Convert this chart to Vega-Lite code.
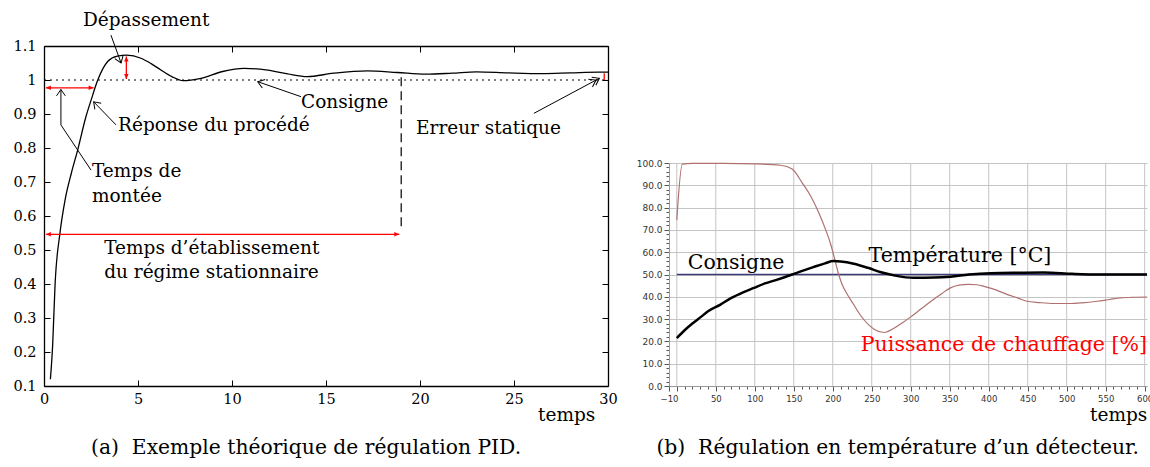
{
  "$schema": "https://vega.github.io/schema/vega-lite/v6.json",
  "padding": {"left": 12, "top": 11, "right": 0, "bottom": 0},
  "background": "white",
  "config": {"view": {"stroke": null}},
  "bounds": "flush",
  "spacing": 61,
  "datasets": {
    "respA": [
      {"t":0.34,"v":0.12},{"t":0.46,"v":0.22},{"t":0.59,"v":0.40},{"t":0.85,"v":0.55},{"t":1.12,"v":0.647},
      {"t":1.45,"v":0.725},{"t":1.79,"v":0.794},{"t":2.23,"v":0.892},{"t":2.5,"v":0.94},{"t":2.86,"v":1.0},
      {"t":3.4,"v":1.055},{"t":3.9,"v":1.07},{"t":4.4,"v":1.073},{"t":5.16,"v":1.064},{"t":5.7,"v":1.048},
      {"t":6.2,"v":1.03},{"t":6.8,"v":1.01},{"t":7.4,"v":0.998},{"t":8.35,"v":1.005},{"t":9.5,"v":1.025},
      {"t":10.65,"v":1.034},{"t":11.8,"v":1.03},{"t":12.96,"v":1.018},{"t":14.0,"v":1.01},{"t":15.4,"v":1.02},
      {"t":17.2,"v":1.027},{"t":18.8,"v":1.022},{"t":20.3,"v":1.017},{"t":21.7,"v":1.02},{"t":23.0,"v":1.024},
      {"t":24.7,"v":1.021},{"t":26.5,"v":1.019},{"t":28.0,"v":1.021},{"t":29.5,"v":1.023},{"t":30,"v":1.023}
    ],
    "consA": [{"t":0,"v":1},{"t":30,"v":1}],
    "statA": [{"t":19,"v":0.57,"v2":1.012}],
    "redA": [
      {"name":"montee","t":0.1,"v":0.977,"t2":2.64,"v2":0.977},
      {"name":"etab","t":0.1,"v":0.546,"t2":18.9,"v2":0.546},
      {"name":"depass","t":4.38,"v":1.003,"t2":4.38,"v2":1.069},
      {"name":"erreur","t":29.8,"v":1.0,"t2":29.8,"v2":1.02}
    ],
    "blkA": [
      {"name":"depass","t":3.56,"v":1.132,"t2":4.10,"v2":1.05},
      {"name":"montee1","t":2.5,"v":0.735,"t2":0.9,"v2":0.868},
      {"name":"montee2","t":0.9,"v":0.868,"t2":0.9,"v2":0.972},
      {"name":"reponse","t":3.83,"v":0.868,"t2":2.64,"v2":0.936},
      {"name":"consigne","t":13.67,"v":0.951,"t2":11.37,"v2":0.995},
      {"name":"erreur","t":26.06,"v":0.902,"t2":29.54,"v2":1.005}
    ],
    "txtA": [
      {"label":"Dépassement","t":2.07,"v":1.176},
      {"label":"Réponse du procédé","t":3.94,"v":0.868},
      {"label":"Temps de","t":2.55,"v":0.732},
      {"label":"montée","t":2.55,"v":0.659},
      {"label":"Consigne","t":13.67,"v":0.935},
      {"label":"Erreur statique","t":19.79,"v":0.859},
      {"label":"Temps d’établissement","t":3.2,"v":0.506},
      {"label":"du régime stationnaire","t":3.2,"v":0.435},
      {"label":"temps","t":26.28,"v":0.015}
    ],
    "capA": [{"label":"(a)\u00a0 Exemple théorique de régulation PID.","t":13.94,"v":-0.082}],
    "gridB": [{"t":0},{"t":50},{"t":100},{"t":150},{"t":200},{"t":250},{"t":300},{"t":350},{"t":400},{"t":450},{"t":500},{"t":550},{"t":600}],
    "consB": [{"t":0,"v":50},{"t":603,"v":50}],
    "puisB": [
      {"t":0,"v":74.5},{"t":7,"v":99.5},{"t":20,"v":99.8},{"t":60,"v":99.8},{"t":100,"v":99.6},{"t":133,"v":99},
      {"t":148,"v":97.3},{"t":161,"v":91},{"t":172,"v":85},{"t":182.5,"v":77.4},{"t":191,"v":70},{"t":197,"v":64},
      {"t":201.7,"v":58},{"t":206.8,"v":51},{"t":212,"v":45.5},{"t":218,"v":41.5},{"t":226,"v":37},{"t":236,"v":31.5},{"t":253,"v":25.5},
      {"t":266,"v":24},{"t":279,"v":26},{"t":290,"v":28.5},{"t":300,"v":31},{"t":313,"v":34.5},{"t":326,"v":38},
      {"t":340,"v":41.5},{"t":351,"v":44},{"t":362,"v":45.2},{"t":374,"v":45.6},{"t":385,"v":45.4},{"t":394,"v":44.7},
      {"t":410,"v":43},{"t":424,"v":41},{"t":437,"v":39.5},{"t":449,"v":38},{"t":465,"v":37.4},{"t":483,"v":37},
      {"t":505,"v":37},{"t":520,"v":37.3},{"t":539,"v":38},{"t":555,"v":38.8},{"t":569,"v":39.5},{"t":585,"v":39.8},
      {"t":603,"v":39.9}
    ],
    "tempB": [
      {"t":0,"v":21.5},{"t":10,"v":25},{"t":20,"v":28},{"t":31,"v":31},{"t":40,"v":33.5},{"t":56,"v":36.5},
      {"t":70,"v":39.5},{"t":85,"v":42},{"t":99,"v":44},{"t":113,"v":46},{"t":127,"v":47.5},{"t":140,"v":49},
      {"t":148,"v":50},{"t":160,"v":51.5},{"t":175,"v":53.3},{"t":190,"v":55},{"t":201,"v":56},{"t":210,"v":55.8},
      {"t":227,"v":54.8},{"t":245,"v":53},{"t":262,"v":51},{"t":280,"v":49.5},{"t":304,"v":48.5},{"t":330,"v":48.6},
      {"t":351,"v":49},{"t":375,"v":50},{"t":403,"v":50.6},{"t":440,"v":50.8},{"t":471,"v":50.9},{"t":507,"v":50.3},
      {"t":540,"v":50},{"t":603,"v":50}
    ],
    "txtB": [
      {"label":"Consigne","t":14,"v":55.2},
      {"label":"Température [°C]","t":246,"v":58.3}
    ],
    "tempsB": [{"label":"temps","t":530,"v":-13}],
    "txtRedB": [{"label":"Puissance de chauffage [%]","t":236,"v":18.4}],
    "capB": [{"label":"(b)\u00a0 Régulation en température d’un détecteur.","t":283.3,"v":-27.8}]
  },
  "hconcat": [
    {
      "width": 564,
      "height": 340,
      "resolve": {"axis": {"x": "independent", "y": "independent"}},
      "layer": [
        {
          "layer": [
            {
              "data": {"name": "respA"},
              "mark": {"type": "line", "color": "black", "strokeWidth": 1.3, "interpolate": "monotone"},
              "encoding": {
                "x": {"field": "t", "type": "quantitative", "scale": {"domain": [0, 30], "nice": false, "zero": false},
                  "axis": {"orient": "bottom", "values": [0,5,10,15,20,25,30], "tickCount": 100, "format": "d", "title": null, "grid": false,
                    "tickSize": -6, "labelPadding": 12, "labelFont": "DejaVu Serif", "labelFontSize": 14.5, "labelColor": "black",
                    "domainColor": "black", "domainWidth": 1.3, "tickColor": "black", "labelFlush": false, "labelOverlap": false}},
                "y": {"field": "v", "type": "quantitative", "scale": {"domain": [0.1, 1.1], "nice": false, "zero": false},
                  "axis": {"orient": "left", "values": [0.1,0.2,0.3,0.4,0.5,0.6,0.7,0.8,0.9,1,1.1], "tickCount": 100, "format": "~g", "title": null, "grid": false,
                    "tickSize": -6, "labelPadding": 14, "labelFont": "DejaVu Serif", "labelFontSize": 14.5, "labelColor": "black",
                    "domainColor": "black", "domainWidth": 1.3, "tickColor": "black", "labelFlush": false, "labelOverlap": false}}
              }
            },
            {
              "data": {"name": "statA"},
              "mark": {"type": "rule", "color": "black", "strokeDash": [9, 5], "strokeWidth": 1.2},
              "encoding": {"x": {"field": "t", "type": "quantitative"}, "y": {"field": "v", "type": "quantitative"}, "y2": {"field": "v2"}}
            },
            {
              "data": {"name": "redA"},
              "mark": {"type": "rule", "color": "#ff0000", "strokeWidth": 1.3},
              "encoding": {"x": {"field": "t", "type": "quantitative"}, "y": {"field": "v", "type": "quantitative"}, "x2": {"field": "t2"}, "y2": {"field": "v2"}}
            },
            {
              "data": {"name": "redA"},
              "transform": [{"filter": "datum.v == datum.v2"}],
              "mark": {"type": "point", "shape": "M0,0L-1,-0.45L-1,0.45Z", "filled": true, "color": "#ff0000", "opacity": 1, "size": 100, "angle": 180},
              "encoding": {"x": {"field": "t", "type": "quantitative"}, "y": {"field": "v", "type": "quantitative"}}
            },
            {
              "data": {"name": "redA"},
              "transform": [{"filter": "datum.v == datum.v2"}],
              "mark": {"type": "point", "shape": "M0,0L-1,-0.45L-1,0.45Z", "filled": true, "color": "#ff0000", "opacity": 1, "size": 100, "angle": 0},
              "encoding": {"x": {"field": "t2", "type": "quantitative"}, "y": {"field": "v2", "type": "quantitative"}}
            },
            {
              "data": {"name": "redA"},
              "transform": [{"filter": "datum.name == 'depass'"}],
              "mark": {"type": "point", "shape": "M0,0L-1,-0.45L-1,0.45Z", "filled": true, "color": "#ff0000", "opacity": 1, "size": 100, "angle": 90},
              "encoding": {"x": {"field": "t", "type": "quantitative"}, "y": {"field": "v", "type": "quantitative"}}
            },
            {
              "data": {"name": "redA"},
              "transform": [{"filter": "datum.name == 'depass'"}],
              "mark": {"type": "point", "shape": "M0,0L-1,-0.45L-1,0.45Z", "filled": true, "color": "#ff0000", "opacity": 1, "size": 100, "angle": 270},
              "encoding": {"x": {"field": "t2", "type": "quantitative"}, "y": {"field": "v2", "type": "quantitative"}}
            },
            {
              "data": {"name": "blkA"},
              "mark": {"type": "rule", "color": "black", "strokeWidth": 1},
              "encoding": {"x": {"field": "t", "type": "quantitative"}, "y": {"field": "v", "type": "quantitative"}, "x2": {"field": "t2"}, "y2": {"field": "v2"}}
            },
            {
              "data": {"name": "blkA"},
              "transform": [{"filter": "datum.name == 'depass'"}],
              "mark": {"type": "point", "shape": "M-1,-0.7L0,0L-1,0.7", "filled": false, "color": "black", "opacity": 1, "strokeWidth": 1, "size": 160, "angle": 70},
              "encoding": {"x": {"field": "t2", "type": "quantitative"}, "y": {"field": "v2", "type": "quantitative"}}
            },
            {
              "data": {"name": "blkA"},
              "transform": [{"filter": "datum.name == 'montee2'"}],
              "mark": {"type": "point", "shape": "M-1,-0.7L0,0L-1,0.7", "filled": false, "color": "black", "opacity": 1, "strokeWidth": 1, "size": 160, "angle": 270},
              "encoding": {"x": {"field": "t2", "type": "quantitative"}, "y": {"field": "v2", "type": "quantitative"}}
            },
            {
              "data": {"name": "blkA"},
              "transform": [{"filter": "datum.name == 'reponse'"}],
              "mark": {"type": "point", "shape": "M-1,-0.7L0,0L-1,0.7", "filled": false, "color": "black", "opacity": 1, "strokeWidth": 1, "size": 160, "angle": 226},
              "encoding": {"x": {"field": "t2", "type": "quantitative"}, "y": {"field": "v2", "type": "quantitative"}}
            },
            {
              "data": {"name": "blkA"},
              "transform": [{"filter": "datum.name == 'consigne'"}],
              "mark": {"type": "point", "shape": "M-1,-0.7L0,0L-1,0.7", "filled": false, "color": "black", "opacity": 1, "strokeWidth": 1, "size": 160, "angle": 199},
              "encoding": {"x": {"field": "t2", "type": "quantitative"}, "y": {"field": "v2", "type": "quantitative"}}
            },
            {
              "data": {"name": "blkA"},
              "transform": [{"filter": "datum.name == 'erreur'"}],
              "mark": {"type": "point", "shape": "M-1,-0.7L0,0L-1,0.7M-1.6,-0.7L-0.6,0L-1.6,0.7", "filled": false, "color": "black", "opacity": 1, "strokeWidth": 1, "size": 160, "angle": 332},
              "encoding": {"x": {"field": "t2", "type": "quantitative"}, "y": {"field": "v2", "type": "quantitative"}}
            },
            {
              "data": {"name": "txtA"},
              "mark": {"type": "text", "align": "left", "baseline": "middle", "font": "DejaVu Serif", "fontSize": 18.5, "color": "black"},
              "encoding": {"x": {"field": "t", "type": "quantitative"}, "y": {"field": "v", "type": "quantitative"}, "text": {"field": "label"}}
            },
            {
              "data": {"name": "capA"},
              "mark": {"type": "text", "align": "center", "baseline": "middle", "font": "DejaVu Serif", "fontSize": 20.3, "color": "black"},
              "encoding": {"x": {"field": "t", "type": "quantitative"}, "y": {"field": "v", "type": "quantitative"}, "text": {"field": "label"}}
            }
          ]
        },
        {
          "data": {"name": "consA"},
          "mark": {"type": "line", "color": "black", "strokeDash": [2, 4], "strokeWidth": 1.2},
          "encoding": {
            "x": {"field": "t", "type": "quantitative",
              "axis": {"orient": "top", "values": [0,5,10,15,20,25,30], "tickCount": 100, "labels": false, "title": null, "grid": false,
                "tickSize": -6, "domainColor": "black", "domainWidth": 1.3, "tickColor": "black"}},
            "y": {"field": "v", "type": "quantitative",
              "axis": {"orient": "right", "values": [0.1,0.2,0.3,0.4,0.5,0.6,0.7,0.8,0.9,1,1.1], "tickCount": 100, "labels": false, "title": null, "grid": false,
                "tickSize": -6, "domainColor": "black", "domainWidth": 1.3, "tickColor": "black"}}
          }
        }
      ]
    },
    {
      "width": 478,
      "height": 340,
      "layer": [
        {
          "data": {"name": "gridB"},
          "mark": {"type": "rule", "color": "#c4c4c4", "strokeWidth": 1},
          "encoding": {
            "x": {"field": "t", "type": "quantitative", "scale": {"domain": [-10, 603], "nice": false, "zero": false},
              "axis": {"values": [-10,0,10,20,30,40,50,60,70,80,90,100,110,120,130,140,150,160,170,180,190,200,210,220,230,240,250,260,270,280,290,300,310,320,330,340,350,360,370,380,390,400,410,420,430,440,450,460,470,480,490,500,510,520,530,540,550,560,570,580,590,600],
                "tickCount": 1000,
                "labelExpr": "datum.value == -10 || (datum.value % 50 == 0 && datum.value != 0) ? datum.label : ''",
                "format": "d", "labelOverlap": false, "labelFlush": false, "labelFont": "DejaVu Sans", "labelFontSize": 8.5, "labelColor": "#333",
                "tickColor": "#555", "tickSize": {"condition": {"test": "datum.value % 50 == 0 || datum.value == -10", "value": 5}, "value": 3},
                "domainColor": "#999", "grid": false, "title": null, "labelPadding": 3}},
            "y": {"datum": 0, "type": "quantitative", "scale": {"domain": [0, 100], "range": [340, 117], "nice": false, "zero": false},
              "axis": {"values": [0,2,4,6,8,10,12,14,16,18,20,22,24,26,28,30,32,34,36,38,40,42,44,46,48,50,52,54,56,58,60,62,64,66,68,70,72,74,76,78,80,82,84,86,88,90,92,94,96,98,100],
                "tickCount": 1000,
                "labelExpr": "datum.value % 10 == 0 ? format(datum.value, '.1f') : ''",
                "labelOverlap": false, "labelFlush": false, "labelFont": "DejaVu Sans", "labelFontSize": 9, "labelColor": "#333",
                "tickColor": "#555", "tickSize": {"condition": {"test": "datum.value % 10 == 0", "value": 5}, "value": 3},
                "domainColor": "#999", "grid": true, "gridColor": "#c4c4c4",
                "gridOpacity": {"condition": {"test": "datum.value % 10 == 0", "value": 1}, "value": 0},
                "title": null, "labelPadding": 2}},
            "y2": {"datum": 100}
          }
        },
        {
          "data": {"name": "consB"},
          "mark": {"type": "line", "color": "#3c3c78", "strokeWidth": 1.5},
          "encoding": {"x": {"field": "t", "type": "quantitative"}, "y": {"field": "v", "type": "quantitative"}}
        },
        {
          "data": {"name": "puisB"},
          "mark": {"type": "line", "color": "#b07070", "strokeWidth": 1.2, "interpolate": "monotone"},
          "encoding": {"x": {"field": "t", "type": "quantitative"}, "y": {"field": "v", "type": "quantitative"}}
        },
        {
          "data": {"name": "tempB"},
          "mark": {"type": "line", "color": "black", "strokeWidth": 2.5, "interpolate": "monotone"},
          "encoding": {"x": {"field": "t", "type": "quantitative"}, "y": {"field": "v", "type": "quantitative"}}
        },
        {
          "data": {"name": "txtB"},
          "mark": {"type": "text", "align": "left", "baseline": "middle", "font": "DejaVu Serif", "fontSize": 20.5, "color": "black"},
          "encoding": {"x": {"field": "t", "type": "quantitative"}, "y": {"field": "v", "type": "quantitative"}, "text": {"field": "label"}}
        },
        {
          "data": {"name": "tempsB"},
          "mark": {"type": "text", "align": "left", "baseline": "middle", "font": "DejaVu Serif", "fontSize": 18.5, "color": "black"},
          "encoding": {"x": {"field": "t", "type": "quantitative"}, "y": {"field": "v", "type": "quantitative"}, "text": {"field": "label"}}
        },
        {
          "data": {"name": "txtRedB"},
          "mark": {"type": "text", "align": "left", "baseline": "middle", "font": "DejaVu Serif", "fontSize": 20.5, "color": "#ff0000"},
          "encoding": {"x": {"field": "t", "type": "quantitative"}, "y": {"field": "v", "type": "quantitative"}, "text": {"field": "label"}}
        },
        {
          "data": {"name": "capB"},
          "mark": {"type": "text", "align": "center", "baseline": "middle", "font": "DejaVu Serif", "fontSize": 20.3, "color": "black"},
          "encoding": {"x": {"field": "t", "type": "quantitative"}, "y": {"field": "v", "type": "quantitative"}, "text": {"field": "label"}}
        }
      ]
    }
  ]
}
